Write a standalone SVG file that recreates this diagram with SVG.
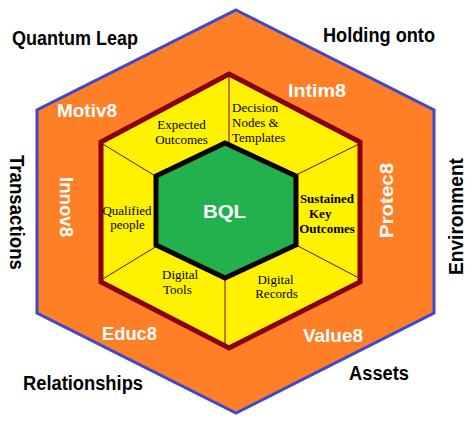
<svg xmlns="http://www.w3.org/2000/svg" width="476" height="425" viewBox="0 0 476 425">
<style>
.outer{fill:#FF7F27;stroke:#3F48CC;stroke-width:3;stroke-linejoin:miter}
.mid{fill:#FFF200;stroke:#880015;stroke-width:5;stroke-linejoin:miter}
.core{fill:#22B14C;stroke:#000;stroke-width:5;stroke-linejoin:miter}
.div{stroke:#880015;stroke-width:1;fill:none}
.blk{font-family:"Liberation Sans",Arial,sans-serif;font-weight:bold;font-size:20px;fill:#000;text-anchor:middle}
.wht{font-family:"Liberation Sans",Arial,sans-serif;font-weight:bold;font-size:19px;fill:#fff;text-anchor:middle}
.ser{font-family:"Liberation Serif","Times New Roman",serif;font-size:13px;fill:#000;text-anchor:middle}
.serb{font-family:"Liberation Serif","Times New Roman",serif;font-size:13px;font-weight:bold;fill:#000;text-anchor:middle}
.st{text-anchor:start}
</style>
<rect width="476" height="425" fill="#fff"/>
<g id="outer-hex"><polygon class="outer" points="236,10 434,110 434,313 236,413 37,313 37,110"/></g>
<g id="middle-hex"><polygon class="mid" points="229,74 360,142 360,282 229,348 101,282 101,142"/></g>
<g id="connectors">
<line class="div" x1="229" y1="74" x2="229" y2="145"/>
<line class="div" x1="225" y1="276" x2="225" y2="346"/>
<line class="div" x1="101" y1="143" x2="157" y2="177"/>
<line class="div" x1="101" y1="280" x2="157" y2="246"/>
<line class="div" x1="296" y1="175" x2="359" y2="144"/>
<line class="div" x1="296" y1="245" x2="359" y2="278"/>
</g>
<g id="core-hex"><polygon class="core" points="225,143 296,176 296,245 225,278 156,245 156,176"/></g>
<g id="bql"><text class="wht" x="224.5" y="218" font-size="25" textLength="43" lengthAdjust="spacingAndGlyphs">BQL</text></g>
<g id="expected-outcomes"><text class="ser" x="181.5" y="129">Expected</text><text class="ser" x="181.5" y="144">Outcomes</text></g>
<g id="decision-nodes"><text class="ser st" x="232" y="112">Decision</text><text class="ser st" x="232" y="127">Nodes &amp;</text><text class="ser st" x="232" y="142">Templates</text></g>
<g id="qualified-people"><text class="ser" x="127" y="215">Qualified</text><text class="ser" x="127.5" y="229">people</text></g>
<g id="sustained-key-outcomes"><text class="serb" x="327" y="203">Sustained</text><text class="serb st" x="309" y="218">Key</text><text class="serb" x="327" y="233">Outcomes</text></g>
<g id="digital-tools"><text class="ser st" x="162" y="279">Digital</text><text class="ser st" x="163" y="294">Tools</text></g>
<g id="digital-records"><text class="ser" x="275.5" y="284">Digital</text><text class="ser" x="276.5" y="298">Records</text></g>
<g id="motiv8"><text class="wht" x="87" y="117" textLength="60" lengthAdjust="spacingAndGlyphs">Motiv8</text></g>
<g id="intim8"><text class="wht" x="317" y="97" textLength="58" lengthAdjust="spacingAndGlyphs">Intim8</text></g>
<g id="innov8"><text class="wht" transform="translate(60,207) rotate(90)" x="0" y="0" textLength="60" lengthAdjust="spacingAndGlyphs">Innov8</text></g>
<g id="protec8"><text class="wht" transform="translate(393,200.5) rotate(-90)" x="0" y="0" textLength="75" lengthAdjust="spacingAndGlyphs">Protec8</text></g>
<g id="educ8"><text class="wht" x="129.5" y="340" textLength="55" lengthAdjust="spacingAndGlyphs">Educ8</text></g>
<g id="value8"><text class="wht" x="333" y="342" textLength="60" lengthAdjust="spacingAndGlyphs">Value8</text></g>
<g id="quantum-leap"><text class="blk" x="75" y="45" textLength="126" lengthAdjust="spacingAndGlyphs">Quantum Leap</text></g>
<g id="holding-onto"><text class="blk" x="379" y="42" textLength="112" lengthAdjust="spacingAndGlyphs">Holding onto</text></g>
<g id="transactions"><text class="blk" transform="translate(9.5,212.5) rotate(90)" x="0" y="0" textLength="115" lengthAdjust="spacingAndGlyphs">Transactions</text></g>
<g id="environment"><text class="blk" transform="translate(463,216.5) rotate(-90)" x="0" y="0" textLength="117" lengthAdjust="spacingAndGlyphs">Environment</text></g>
<g id="relationships"><text class="blk" x="83" y="390" textLength="120" lengthAdjust="spacingAndGlyphs">Relationships</text></g>
<g id="assets"><text class="blk" x="379" y="380" textLength="60" lengthAdjust="spacingAndGlyphs">Assets</text></g>
</svg>
